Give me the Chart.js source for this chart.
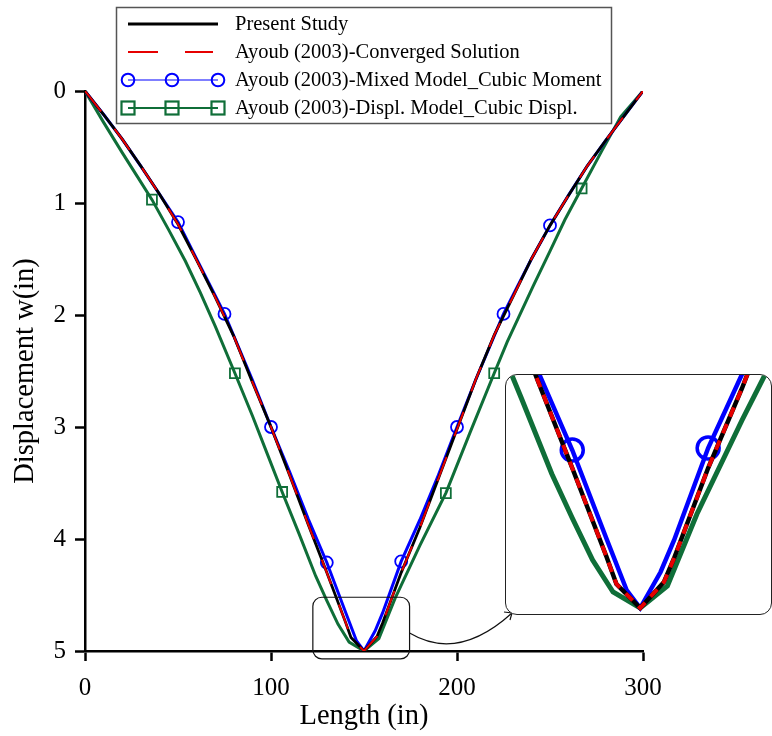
<!DOCTYPE html>
<html>
<head>
<meta charset="utf-8">
<script src="https://cdn.jsdelivr.net/npm/chart.js@4.4.1/dist/chart.umd.min.js"></script>
<style>
  html, body { margin: 0; padding: 0; background: #fff; }
  #wrap { position: relative; width: 772px; height: 736px; }
  #main { position: absolute; left: 0; top: 0; }
  #insetBox {
    position: absolute; left: 505px; top: 374px; width: 265px; height: 239px;
    border: 1.5px solid #222; border-radius: 12px; overflow: hidden; background: #fff;
  }
</style>
</head>
<body>
<div id="wrap">
  <canvas id="main" width="772" height="736"></canvas>
  <div id="insetBox"><canvas id="inset" width="265" height="239"></canvas></div>
</div>
<script>
(function () {
  var FONT = "'Liberation Serif', 'Times New Roman', serif";

  // Present Study
  var presentX = [0, 10, 20, 30, 40, 50, 60, 70, 80, 90, 100, 110, 120, 130, 140, 143, 150,
    157, 160, 170, 180, 190, 200, 210, 220, 230, 240, 250, 260, 270, 280, 290, 300];
  var presentY = [0, 0.21, 0.43, 0.67, 0.92, 1.19, 1.51, 1.84, 2.19, 2.6, 3.0, 3.43, 3.87, 4.3, 4.74, 4.88, 5.0,
    4.87, 4.75, 4.3, 3.9, 3.46, 3.02, 2.58, 2.18, 1.84, 1.5, 1.2, 0.93, 0.67, 0.44, 0.22, 0];

  // Ayoub (2003) converged solution
  var convergedX = [0, 10, 20, 30, 40, 50, 60, 70, 80, 90, 100, 110, 120, 130, 140, 143, 150,
    157, 160, 170, 180, 190, 200, 210, 220, 230, 240, 250, 260, 270, 280, 290, 300];
  var convergedY = [0, 0.21, 0.43, 0.67, 0.92, 1.19, 1.51, 1.84, 2.19, 2.6, 3.0, 3.43, 3.87, 4.3, 4.74, 4.88, 5.0,
    4.87, 4.75, 4.3, 3.9, 3.46, 3.02, 2.58, 2.18, 1.84, 1.5, 1.2, 0.93, 0.67, 0.44, 0.22, 0];

  // Ayoub (2003) mixed model, cubic moment
  var mixedX = [0, 10, 20, 30, 40, 50, 60, 75, 90, 100, 110, 120, 130, 140, 146, 150,
    156, 160, 170, 180, 190, 200, 210, 225, 240, 250, 260, 270, 280, 290, 300];
  var mixedY = [0, 0.21, 0.43, 0.67, 0.92, 1.17, 1.5, 1.99, 2.58, 3.0, 3.4, 3.82, 4.21, 4.65, 4.91, 5.0,
    4.82, 4.66, 4.2, 3.83, 3.43, 3.0, 2.58, 1.99, 1.5, 1.2, 0.93, 0.67, 0.44, 0.22, 0];
  var mixedMarks = [50, 75, 100, 130, 170, 200, 225, 250];

  // Ayoub (2003) displacement model, cubic displacement
  var displX = [0, 10, 20, 28, 36, 45, 54, 62, 70, 80.6, 90, 98, 106, 115, 124, 130, 136, 142, 150,
    158, 166.7, 180, 194, 207, 220, 227, 241, 250, 258, 267, 278, 288, 300];
  var displY = [0, 0.28, 0.55, 0.76, 0.97, 1.24, 1.52, 1.8, 2.1, 2.52, 2.9, 3.24, 3.58, 3.95, 4.33, 4.55, 4.76, 4.92, 5.0,
    4.89, 4.53, 4.06, 3.59, 3.05, 2.52, 2.24, 1.74, 1.43, 1.15, 0.87, 0.53, 0.23, 0];
  var displMarks = [36, 80.6, 106, 194, 220, 267];

  var xTicks = [0, 100, 200, 300];
  var yTicks = [0, 1, 2, 3, 4, 5];

  var legendLabels = [
    'Present Study',
    'Ayoub (2003)-Converged Solution',
    'Ayoub (2003)-Mixed Model_Cubic Moment',
    'Ayoub (2003)-Displ. Model_Cubic Displ.'
  ];

  var BLACK = '#000000';
  var RED = '#e60000';
  var BLUE = '#0000ff';
  var GREEN = '#0f6e38';

  // region of the main plot that the inset magnifies
  var zoomBox = { xMin: 122.5, xMax: 174.5, yMin: 4.52, yMax: 5.07, arrowY: 4.84 };

  function toPoints(xs, ys) {
    return xs.map(function (x, i) { return { x: x, y: ys[i] }; });
  }

  function markRadius(xs, marks, r) {
    return xs.map(function (x) { return marks.indexOf(x) >= 0 ? r : 0; });
  }

  function makeDatasets(big) {
    return [
      {
        label: legendLabels[1],
        data: toPoints(convergedX, convergedY),
        borderColor: RED,
        borderWidth: big ? 4 : 2,
        borderDash: big ? [10, 8] : [26, 22],
        pointRadius: 0,
        order: 0
      },
      {
        label: legendLabels[0],
        data: toPoints(presentX, presentY),
        borderColor: BLACK,
        borderWidth: big ? 4.5 : 2.8,
        pointRadius: 0,
        order: 1
      },
      {
        label: legendLabels[2],
        data: toPoints(mixedX, mixedY),
        borderColor: BLUE,
        borderWidth: big ? 4.5 : 3,
        pointStyle: 'circle',
        pointRadius: markRadius(mixedX, mixedMarks, big ? 11 : 6),
        pointBorderWidth: big ? 3.5 : 1.8,
        pointBorderColor: BLUE,
        pointBackgroundColor: 'rgba(0,0,0,0)',
        order: 2
      },
      {
        label: legendLabels[3],
        data: toPoints(displX, displY),
        borderColor: GREEN,
        borderWidth: big ? 5 : 3,
        pointStyle: 'rect',
        pointRadius: markRadius(displX, displMarks, big ? 13 : 7),
        pointBorderWidth: big ? 3.5 : 1.8,
        pointBorderColor: GREEN,
        pointBackgroundColor: 'rgba(0,0,0,0)',
        order: 3
      }
    ];
  }

  function drawLegend(ctx) {
    ctx.save();
    ctx.fillStyle = '#fff';
    ctx.fillRect(116.5, 7.5, 495, 116);
    ctx.strokeStyle = '#555';
    ctx.lineWidth = 1.5;
    ctx.strokeRect(116.5, 7.5, 495, 116);

    var rows = [24, 52, 80, 108];
    var x0 = 128, x1 = 218, xm = 172;

    // Present Study
    ctx.strokeStyle = BLACK;
    ctx.lineWidth = 3;
    ctx.beginPath(); ctx.moveTo(x0, rows[0]); ctx.lineTo(x1, rows[0]); ctx.stroke();

    // Converged
    ctx.strokeStyle = RED;
    ctx.lineWidth = 2;
    ctx.beginPath();
    ctx.moveTo(x0, rows[1]); ctx.lineTo(158, rows[1]);
    ctx.moveTo(185, rows[1]); ctx.lineTo(213, rows[1]);
    ctx.stroke();

    // Mixed
    ctx.strokeStyle = BLUE;
    ctx.lineWidth = 1.2;
    ctx.beginPath(); ctx.moveTo(x0, rows[2]); ctx.lineTo(x1, rows[2]); ctx.stroke();
    ctx.lineWidth = 2;
    [x0, xm, x1].forEach(function (cx) {
      ctx.beginPath(); ctx.arc(cx, rows[2], 6.3, 0, Math.PI * 2); ctx.stroke();
    });

    // Displ
    ctx.strokeStyle = GREEN;
    ctx.lineWidth = 2.2;
    ctx.beginPath(); ctx.moveTo(x0, rows[3]); ctx.lineTo(x1, rows[3]); ctx.stroke();
    [x0, xm, x1].forEach(function (cx) {
      ctx.strokeRect(cx - 6.5, rows[3] - 6.5, 13, 13);
    });

    ctx.fillStyle = '#000';
    ctx.font = '20.5px ' + FONT;
    ctx.textBaseline = 'middle';
    ctx.textAlign = 'left';
    legendLabels.forEach(function (txt, i) {
      ctx.fillText(txt, 235, rows[i] + 1);
    });
    ctx.restore();
  }

  var decorPlugin = {
    id: 'decor',
    afterDraw: function (chart) {
      var ctx = chart.ctx;
      var xs = chart.scales.x;
      var ys = chart.scales.y;

      // rounded rectangle round the magnified region
      var left = xs.getPixelForValue(zoomBox.xMin);
      var right = xs.getPixelForValue(zoomBox.xMax);
      var top = ys.getPixelForValue(zoomBox.yMin);
      var bottom = ys.getPixelForValue(zoomBox.yMax);
      ctx.save();
      ctx.strokeStyle = '#111';
      ctx.lineWidth = 1.2;
      ctx.beginPath();
      ctx.roundRect(left, top, right - left, bottom - top, 9);
      ctx.stroke();

      // curved arrow to the inset
      var ay = ys.getPixelForValue(zoomBox.arrowY);
      var ex = 512, ey = 613;
      ctx.beginPath();
      ctx.moveTo(right, ay);
      ctx.quadraticCurveTo(458, 662, ex, ey);
      ctx.stroke();
      ctx.beginPath();
      ctx.moveTo(ex - 8, ey - 1);
      ctx.lineTo(ex, ey);
      ctx.lineTo(ex - 2, ey + 7);
      ctx.stroke();
      ctx.restore();

      drawLegend(ctx);
    }
  };

  var tickFont = { family: FONT, size: 25 };
  var titleFont = { family: FONT, size: 28.5 };

  new Chart(document.getElementById('main').getContext('2d'), {
    type: 'line',
    data: { datasets: makeDatasets(false) },
    options: {
      responsive: false,
      animation: false,
      layout: { padding: { top: 91, right: 129, left: 0, bottom: 0 } },
      plugins: { legend: { display: false }, tooltip: { enabled: false } },
      elements: { line: { tension: 0 } },
      scales: {
        x: {
          type: 'linear',
          min: 0,
          max: 300,
          afterFit: function (scale) { scale.height = 85; },
          afterBuildTicks: function (scale) {
            scale.ticks = xTicks.map(function (v) { return { value: v }; });
          },
          ticks: { font: tickFont, color: '#000', padding: 12, maxRotation: 0 },
          grid: { display: true, drawOnChartArea: false, drawTicks: true, tickLength: 10, tickWidth: 2.5, tickColor: '#000' },
          border: { display: true, color: '#000', width: 2.5 },
          title: { display: true, text: 'Length (in)', font: titleFont, color: '#000', padding: { top: 0, bottom: 2 } }
        },
        y: {
          type: 'linear',
          min: 0,
          max: 5,
          reverse: true,
          afterFit: function (scale) { scale.width = 85; },
          afterBuildTicks: function (scale) {
            scale.ticks = yTicks.map(function (v) { return { value: v }; });
          },
          ticks: { font: tickFont, color: '#000', padding: 9 },
          grid: { display: true, drawOnChartArea: false, drawTicks: true, tickLength: 10, tickWidth: 2.5, tickColor: '#000' },
          border: { display: true, color: '#000', width: 2.5 },
          title: { display: true, text: 'Displacement w(in)', font: titleFont, color: '#000', padding: { top: 8, bottom: 0 } }
        }
      }
    },
    plugins: [decorPlugin]
  });

  new Chart(document.getElementById('inset').getContext('2d'), {
    type: 'line',
    data: { datasets: makeDatasets(true) },
    options: {
      responsive: false,
      animation: false,
      layout: { padding: 0 },
      plugins: { legend: { display: false }, tooltip: { enabled: false } },
      elements: { line: { tension: 0 } },
      scales: {
        x: { type: 'linear', min: 110.5, max: 188.5, display: false },
        y: { type: 'linear', min: 3.835, max: 5.03, reverse: true, display: false }
      }
    }
  });
})();
</script>
</body>
</html>
